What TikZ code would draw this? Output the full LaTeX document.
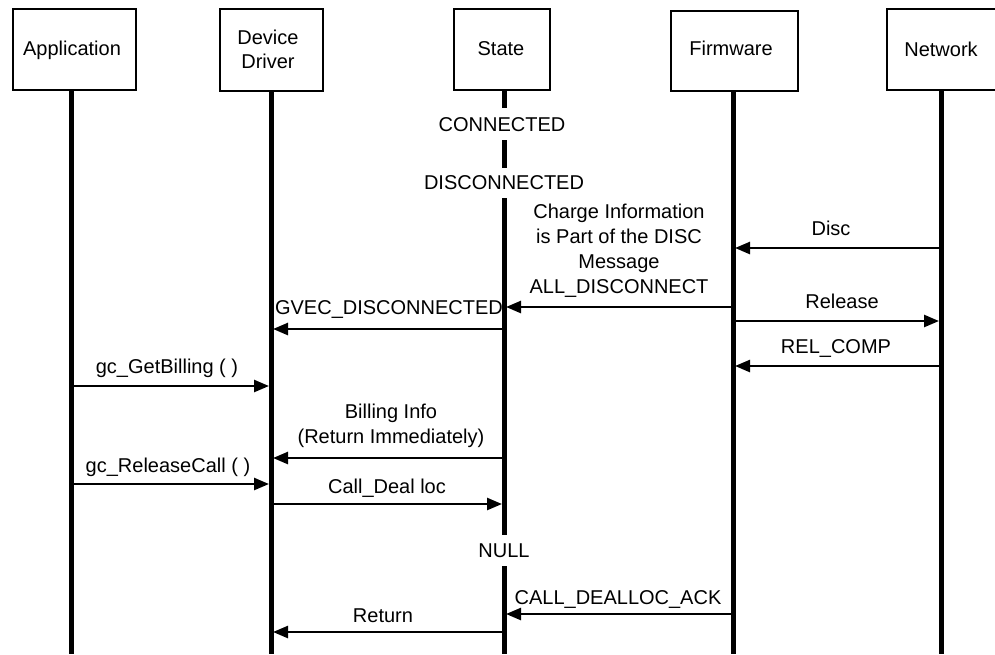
\documentclass[tikz,border=0pt]{standalone}
\usepackage{fontspec}
\setmainfont{Liberation Sans}
\usetikzlibrary{arrows.meta}
\tikzset{
  actor/.style={draw, line width=2pt, minimum width=#1, minimum height=81pt, inner sep=0pt, anchor=north west},
  lifeline/.style={line width=5pt},
  msg/.style={line width=2.5pt, -{Triangle[length=15pt,width=12pt]}, shorten >=2pt},
  lbl/.style={inner sep=0pt, anchor=base, font=\fontsize{20}{25}\selectfont, align=center},
}
\begin{document}
\begin{tikzpicture}[x=1pt,y=-1pt]
\useasboundingbox (0,0) rectangle (995,654);
\clip (0,0) rectangle (995,654);
% actor boxes
\node[actor=123pt] (appbox) at (12,8) {};
\node[actor=103pt, minimum height=82pt] (ddbox) at (219,8) {};
\node[actor=96pt] (stbox) at (453,8) {};
\node[actor=127pt, minimum height=80pt] (fwbox) at (670,10) {};
\node[actor=115pt] (netbox) at (886,8) {};
\node[lbl] (applbl) at (72,55) {Application};
\node[lbl] (ddlbl1) at (268,44) {Device};
\node[lbl] (ddlbl2) at (268,68) {Driver};
\node[lbl] (stlbl) at (501,55) {State};
\node[lbl] (fwlbl) at (731,55) {Firmware};
\node[lbl] (netlbl) at (941,56) {Network};
% lifeline coordinates
\coordinate (app) at (71,89);
\coordinate (dd) at (271,90);
\coordinate (st) at (504,89);
\coordinate (fw) at (733,90);
\coordinate (net) at (941,89);
\coordinate (append) at (71,654);
\coordinate (ddend) at (271,654);
\coordinate (fwend) at (733,654);
\coordinate (netend) at (941,654);
% state labels
\node[lbl] (connected) at (502,131) {CONNECTED};
\node[lbl] (disconnected) at (504,189) {DISCONNECTED};
\node[lbl] (null) at (504,557) {NULL};
% messages
\node[lbl] (disclbl) at (831,235) {Disc};
\draw[msg] (net |- 0,248) -- (fw |- 0,248);
\node[lbl] (chargelbl) at (619,293) {Charge Information\\is Part of the DISC\\Message\\ALL\_DISCONNECT};
\draw[msg] (fw |- 0,307) -- (st |- 0,307);
\node[lbl] (gveclbl) at (389,314) {GVEC\_DISCONNECTED};
\draw[msg] (st |- 0,329) -- (dd |- 0,329);
\node[lbl] (releaselbl) at (842,308) {Release};
\draw[msg] (fw |- 0,321) -- (net |- 0,321);
\node[lbl] (relcomplbl) at (836,353) {REL\_COMP};
\draw[msg] (net |- 0,366) -- (fw |- 0,366);
\node[lbl] (getbilllbl) at (167,373) {gc\_GetBilling ( )};
\draw[msg] (app |- 0,386) -- (dd |- 0,386);
\node[lbl] (billinglbl) at (391,443) {Billing Info\\(Return Immediately)};
\draw[msg] (st |- 0,458) -- (dd |- 0,458);
\node[lbl] (releasecalllbl) at (168,472) {gc\_ReleaseCall ( )};
\draw[msg] (app |- 0,484) -- (dd |- 0,484);
\node[lbl] (deallbl) at (387,493) {Call\_Deal loc};
\draw[msg] (dd |- 0,504) -- (st |- 0,504);
\node[lbl] (acklbl) at (618,604) {CALL\_DEALLOC\_ACK};
\draw[msg] (fw |- 0,614) -- (st |- 0,614);
\node[lbl] (returnlbl) at (383,622) {Return};
\draw[msg] (st |- 0,632) -- (dd |- 0,632);
% lifelines
\draw[lifeline] (app) -- (append);
\draw[lifeline] (dd) -- (ddend);
\draw[lifeline] (fw) -- (fwend);
\draw[lifeline] (net) -- (netend);
\draw[lifeline] (st) -- (st |- 0,108);
\draw[lifeline] (st |- 0,140) -- (st |- 0,168);
\draw[lifeline] (st |- 0,198) -- (st |- 0,535);
\draw[lifeline] (st |- 0,566) -- (st |- 0,654);
\end{tikzpicture}
\end{document}
